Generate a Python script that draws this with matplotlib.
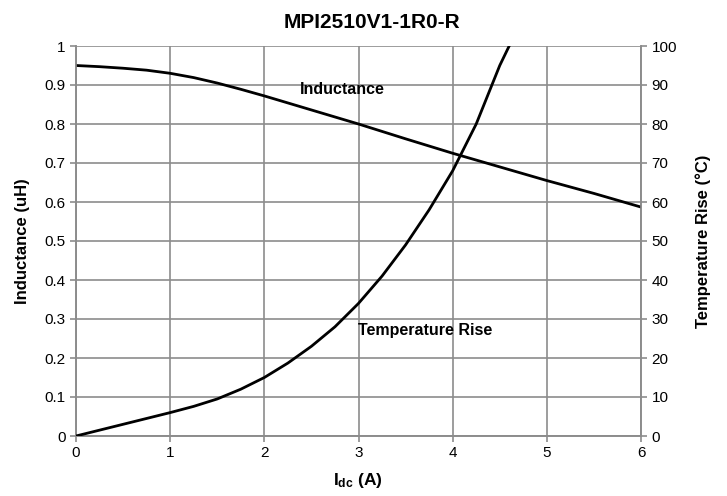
import matplotlib
matplotlib.use("Agg")
import matplotlib.pyplot as plt

plt.rcParams['font.family'] = ['Liberation Sans', 'DejaVu Sans']
plt.rcParams['mathtext.fontset'] = 'custom'
plt.rcParams['mathtext.rm'] = 'Liberation Sans'
plt.rcParams['mathtext.bf'] = 'Liberation Sans:bold'
plt.rcParams['mathtext.it'] = 'Liberation Sans:italic'

# Data
x_ind = [0, 0.25, 0.5, 0.75, 1.0, 1.25, 1.5, 1.75, 2.0, 2.5, 3.0, 3.5, 4.0, 4.5, 5.0, 5.5, 6.0]
inductance = [0.95, 0.947, 0.943, 0.938, 0.93, 0.919, 0.905, 0.889, 0.872, 0.836, 0.80,
              0.762, 0.725, 0.69, 0.655, 0.622, 0.587]

x_temp = [0, 0.25, 0.5, 0.75, 1.0, 1.25, 1.5, 1.75, 2.0, 2.25, 2.5, 2.75, 3.0, 3.25, 3.5,
          3.75, 4.0, 4.25, 4.4, 4.5, 4.6]
temp_rise = [0, 1.5, 3, 4.5, 6, 7.6, 9.5, 12, 15, 18.7, 23, 28, 34, 41, 49,
             58, 68, 80, 89, 95, 100]

x_ticks = [0, 1, 2, 3, 4, 5, 6]
y_left_ticks = [0, 0.1, 0.2, 0.3, 0.4, 0.5, 0.6, 0.7, 0.8, 0.9, 1.0]
y_left_labels = ["0", "0.1", "0.2", "0.3", "0.4", "0.5", "0.6", "0.7", "0.8", "0.9", "1"]
y_right_ticks = [0, 10, 20, 30, 40, 50, 60, 70, 80, 90, 100]

W, H = 727, 496
fig = plt.figure(figsize=(W / 100, H / 100), dpi=100)
L, R, T, B = 76, 641, 46, 436
ax = fig.add_axes([L / W, 1 - B / H, (R - L) / W, (B - T) / H])
ax2 = ax.twinx()

grid_c = '#8c8c8c'
ax.set_xlim(0, 6)
ax.set_ylim(0, 1)
ax2.set_ylim(0, 100)
ax.set_xticks(x_ticks)
ax.set_yticks(y_left_ticks)
ax.set_yticklabels(y_left_labels)
ax2.set_yticks(y_right_ticks)
ax.grid(True, color=grid_c, linewidth=1.2)
ax.set_axisbelow(True)

for a in (ax, ax2):
    for s in a.spines.values():
        s.set_color(grid_c)
        s.set_linewidth(1.2)
    a.tick_params(colors=grid_c, labelcolor='black', labelsize=11, length=4, width=1.2)
ax.spines['top'].set_visible(False)
ax2.spines['top'].set_visible(False)

ax.plot(x_ind, inductance, color='black', linewidth=2.0, solid_joinstyle='round', zorder=3)
ax2.plot(x_temp, temp_rise, color='black', linewidth=2.0, solid_joinstyle='round', zorder=3)

ax.text((342 - L) / (R - L) * 6, (B - 90) / (B - T), 'Inductance', fontsize=11.5, fontweight='bold',
        ha='center', va='center')
ax.text((425 - L) / (R - L) * 6, (B - 331) / (B - T), 'Temperature Rise', fontsize=11.5, fontweight='bold',
        ha='center', va='center')

fig.text(372 / W, 1 - 22 / H, 'MPI2510V1-1R0-R', fontsize=15, fontweight='bold', ha='center', va='center')
fig.text(23 / W, 1 - 241 / H, 'Inductance (uH)', fontsize=12, fontweight='bold', rotation=90,
         ha='center', va='center')
fig.text(703 / W, 1 - 241 / H, 'Temperature Rise (°C)', fontsize=12, fontweight='bold', rotation=90,
         ha='center', va='center')
fig.text(358 / W, 1 - 480 / H, r'$\mathbf{I_{dc}\ (A)}$', fontsize=12.5, ha='center', va='center')

fig.savefig('out.png', dpi=100)
